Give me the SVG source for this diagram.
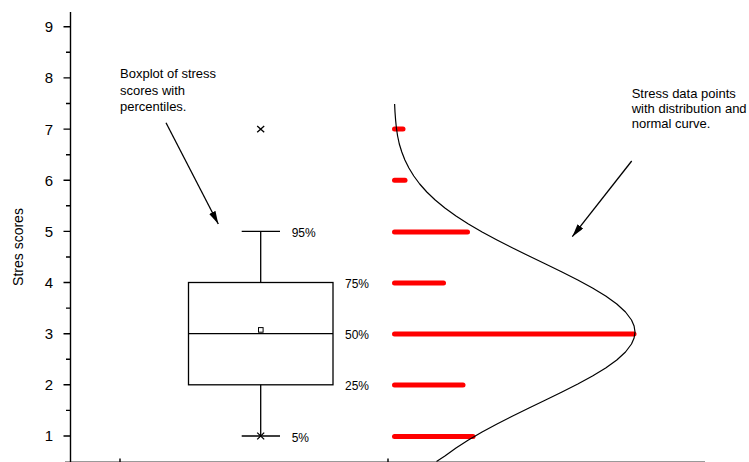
<svg xmlns="http://www.w3.org/2000/svg" width="749" height="462" viewBox="0 0 749 462">
<style>
text{font-family:"Liberation Sans",Arial,sans-serif;fill:#000}
.tick{font-size:15px;text-anchor:end}
.pct{font-size:12px}
.note{font-size:13px}
.ax{stroke:#000;stroke-width:1.4;fill:none}
.bx{stroke:#000;stroke-width:1.3;fill:none}
.bar{stroke:#ff0000;stroke-width:5;stroke-linecap:round}
.arrow{stroke:#000;stroke-width:1.3;fill:none;marker-end:url(#ah)}
</style>
<defs>
<marker id="ah" markerUnits="userSpaceOnUse" markerWidth="14" markerHeight="8" refX="13" refY="3.5" orient="auto"><path d="M0,0 L13,3.5 L0,7 Z" fill="#000"/></marker>
</defs>
<rect width="749" height="462" fill="#fff"/>
<g id="axes">
<line x1="65" y1="461.5" x2="705" y2="461.5" stroke="#999" stroke-width="1"/>
<line class="ax" x1="70.5" y1="12" x2="70.5" y2="462"/>
<path class="ax" d="M63.5,436H70.5M63.5,384.8H70.5M63.5,333.7H70.5M63.5,282.5H70.5M63.5,231.4H70.5M63.5,180.2H70.5M63.5,129.1H70.5M63.5,77.9H70.5M63.5,26.7H70.5"/>
<path class="ax" d="M66,410.4H70.5M66,359.3H70.5M66,308.1H70.5M66,257H70.5M66,205.8H70.5M66,154.7H70.5M66,103.5H70.5M66,52.3H70.5"/>
<path class="ax" d="M120,458.5V462M388,458.5V462"/>
<text class="tick" x="53" y="441.4">1</text>
<text class="tick" x="53" y="390.2">2</text>
<text class="tick" x="53" y="339.1">3</text>
<text class="tick" x="53" y="287.9">4</text>
<text class="tick" x="53" y="236.8">5</text>
<text class="tick" x="53" y="185.6">6</text>
<text class="tick" x="53" y="134.5">7</text>
<text class="tick" x="53" y="83.3">8</text>
<text class="tick" x="53" y="32.1">9</text>
<text x="0" y="0" font-size="14" text-anchor="middle" transform="translate(23,247) rotate(-90)">Stres scores</text>
</g>
<g id="boxplot">
<rect class="bx" x="188.5" y="282.5" width="144.5" height="102.3"/>
<line class="bx" x1="188.5" y1="333.7" x2="333" y2="333.7"/>
<path class="bx" d="M260.7,282.5V231.4M241.7,231.4H280M260.7,384.8V436M241.7,436H280"/>
<rect x="258.5" y="327.6" width="4.6" height="4.6" fill="none" stroke="#000" stroke-width="1"/>
<path class="bx" d="M257.2,432.6L264.2,439.4M257.2,439.4L264.2,432.6"/>
<path class="bx" d="M257.2,125.9L264.2,132.3M257.2,132.3L264.2,125.9"/>
<text class="pct" x="291.7" y="236.5">95%</text>
<text class="pct" x="345" y="287.7">75%</text>
<text class="pct" x="345" y="339">50%</text>
<text class="pct" x="345" y="390">25%</text>
<text class="pct" x="291.7" y="441.5">5%</text>
</g>
<g id="data-points">
<line class="bar" x1="394.5" y1="129.1" x2="403" y2="129.1"/>
<line class="bar" x1="394.5" y1="180.2" x2="405" y2="180.2"/>
<line class="bar" x1="394.5" y1="231.9" x2="467.5" y2="231.9"/>
<line class="bar" x1="394.5" y1="283" x2="443.5" y2="283"/>
<line class="bar" x1="394.5" y1="334" x2="634" y2="334"/>
<line class="bar" x1="394.5" y1="385" x2="463" y2="385"/>
<line class="bar" x1="394.5" y1="436.5" x2="473" y2="436.5"/>
</g>
<g id="normal-curve">
<polyline fill="none" stroke="#000" stroke-width="1.2" stroke-linejoin="round" points="394.6,104 395,112 395.6,120 396.4,128 397.6,136 399.3,144 401.8,152 404.9,160 408.9,168 413.8,176 419.7,184 426.8,192 435.2,200 444.9,208 456,216 468.4,224 482.1,232 497,240 512.7,248 529,256 545.6,264 562,272 577.8,280 592.5,288 605.7,296 616.8,304 625.5,312 631.5,320 634.1,326 635,332 634.1,338 631.5,344 625.5,352 616.8,360 605.7,368 592.5,376 577.8,384 562,392 545.6,400 529,408 512.7,416 497,424 482.1,432 468.4,440 456,448 444.9,456 436.5,461.5"/>
</g>
<g id="annotations">
<text class="note" x="120" y="78.3">Boxplot of stress</text>
<text class="note" x="120" y="94.6">scores with</text>
<text class="note" x="120" y="110.9">percentiles.</text>
<text class="note" x="631.7" y="97.7">Stress data points</text>
<text class="note" x="631.7" y="112.7">with distribution and</text>
<text class="note" x="631.7" y="127.7">normal curve.</text>
</g>
<g id="connectors">
<line class="arrow" x1="166" y1="122.7" x2="218.3" y2="224"/>
<line class="arrow" x1="631.7" y1="161" x2="572.3" y2="236.7"/>
</g>
</svg>
